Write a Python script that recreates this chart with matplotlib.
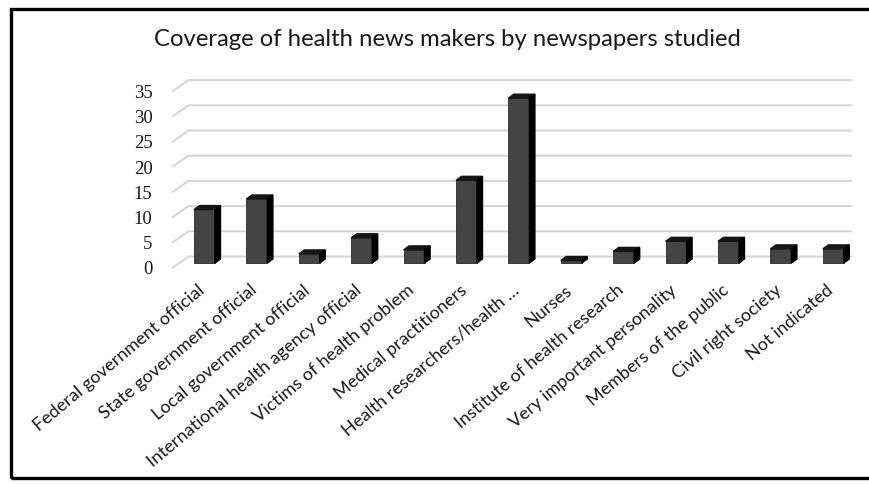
import numpy as np
import matplotlib
matplotlib.use("Agg")
import matplotlib.pyplot as plt
import matplotlib.patches as mpatches

categories = ["Federal government official", "State government official",
              "Local government official", "International health agency official",
              "Victims of health problem", "Medical practitioners",
              "Health researchers/health \u2026", "Nurses",
              "Institute of health research", "Very important personality",
              "Members of the public", "Civil right society", "Not indicated"]
values = [10.6, 12.7, 1.8, 5.0, 2.6, 16.4, 32.7, 0.5, 2.3, 4.3, 4.3, 2.8, 2.8]
yticks = [0, 5, 10, 15, 20, 25, 30, 35]

W, H = 870, 484
fig = plt.figure(figsize=(W / 100, H / 100), dpi=100)

# pixel geometry of the fake 3d plot
ppx = 52.4      # px per category
ppv = 5.04      # px per value unit
x_left, x_right, y_bot, y_top = 172, 860, 268, 60
ax = fig.add_axes([x_left / W, (H - y_bot) / H, (x_right - x_left) / W, (y_bot - y_top) / H])
ax.set_xlim((x_left - 197.5) / ppx, (x_right - 197.5) / ppx)
ax.set_ylim(0, (y_bot - y_top) / ppv)
for s in ax.spines.values():
    s.set_visible(False)

# back wall offsets and bar offsets (data units)
bdx, bdy = 16.5 / ppx, 11.5 / ppv
fdx, fdy = 7 / ppx, 5 / ppv
bw = 21 / ppx
ddx, ddy = 5.5 / ppx, 4 / ppv

x0 = ax.get_xlim()[0]
x_end = (852 - 197.5) / ppx
grid_c = "#d4d4d4"
for t in yticks:
    ax.plot([x0, x0 + bdx, x_end], [t, t + bdy, t + bdy], color=grid_c, lw=1.4,
            clip_on=False, zorder=1, solid_capstyle="butt")

xs = np.arange(len(values))
xc = xs + fdx
ax.bar(xc, values, width=bw, bottom=fdy, color="#444444", edgecolor="#2a2a2a",
       linewidth=0.6, zorder=3)
for x, v in zip(xc, values):
    l, r = x - bw / 2, x + bw / 2
    top = fdy + v
    ax.fill([l, r, r + ddx, l + ddx], [top, top, top + ddy, top + ddy],
            color="#151515", zorder=3, clip_on=False)
    ax.fill([r, r + ddx, r + ddx, r], [fdy, fdy + ddy, top + ddy, top],
            color="#000000", zorder=3, clip_on=False)

ax.set_yticks(yticks)
ax.set_yticklabels([str(t) for t in yticks], fontfamily="Liberation Serif", fontsize=13.5)
ax.set_xticks(xs)
ax.set_xticklabels(categories, rotation=40, ha="right", va="top", rotation_mode="anchor",
                   fontfamily="Lato", fontsize=13)
ax.tick_params(axis="y", length=0, pad=14, colors="#1a1a1a")
ax.tick_params(axis="x", length=0, pad=10, colors="#1a1a1a")

fig.text(447 / W, 1 - 39 / H, "Coverage of health news makers by newspapers studied",
         ha="center", va="center", fontfamily="Lato", fontsize=17.2, color="#1a1a1a")

fig.patches.append(mpatches.Rectangle((11 / W, 1 - 478 / H), 2.0, (478 - 9) / H,
                                      transform=fig.transFigure, fill=False,
                                      edgecolor="black", lw=2.4))

fig.savefig("out.png", dpi=100)
